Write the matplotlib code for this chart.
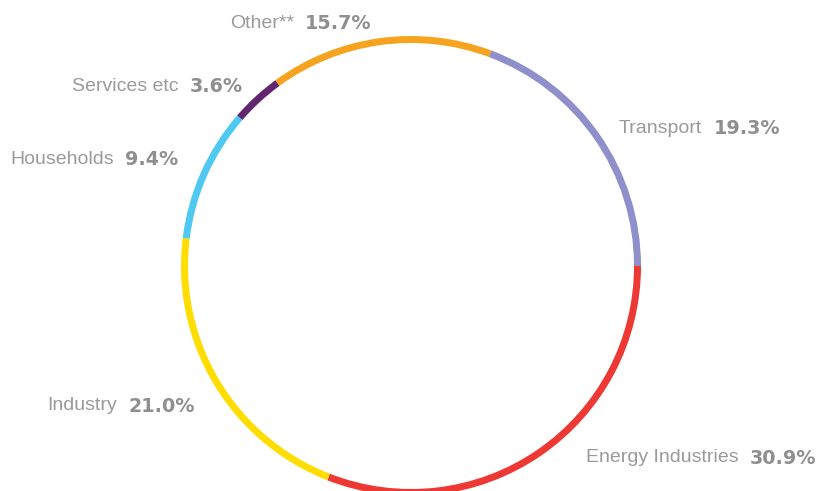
import matplotlib
matplotlib.use("Agg")
import matplotlib.pyplot as plt

categories = ["Energy Industries", "Industry", "Households", "Services etc", "Other**", "Transport"]
values = [30.9, 21.0, 9.4, 3.6, 15.7, 19.3]
colors = ["#EE3833", "#FFDD00", "#4FC8F2", "#622670", "#F6A41F", "#8E8FCB"]
pct_labels = ["30.9%", "21.0%", "9.4%", "3.6%", "15.7%", "19.3%"]

W, H = 817, 491
cx, cy = 411, 266
R = 230

fig = plt.figure(figsize=(W / 100, H / 100), dpi=100)
ax = fig.add_axes([0, 0, 1, 1])

ax.pie(values, colors=colors, startangle=0, counterclock=False, radius=R,
       wedgeprops=dict(width=7, edgecolor="none"), frame=True)
ax.set_xlim(-cx, W - cx)
ax.set_ylim(-(H - cy), cy)
ax.set_aspect("equal")
ax.axis("off")

# label placement: (name right edge x, percent left edge x, y) in pixel coords
pos = {
    "Energy Industries": (739, 750, 458),
    "Industry": (117, 128, 406),
    "Households": (114, 125, 159),
    "Services etc": (179, 190, 86),
    "Other**": (294, 305, 23),
    "Transport": (702, 714, 128),
}
for name, pct in zip(categories, pct_labels):
    xr, xl, y = pos[name]
    ax.text(xr - cx, cy - y, name, ha="right", va="center", fontsize=14,
            color="#9A9A9A", family="Liberation Sans")
    ax.text(xl - cx, cy - y, pct, ha="left", va="center", fontsize=13.8,
            color="#8F8F8F", family="DejaVu Sans", fontweight="bold")

fig.savefig("out.png", dpi=100)
